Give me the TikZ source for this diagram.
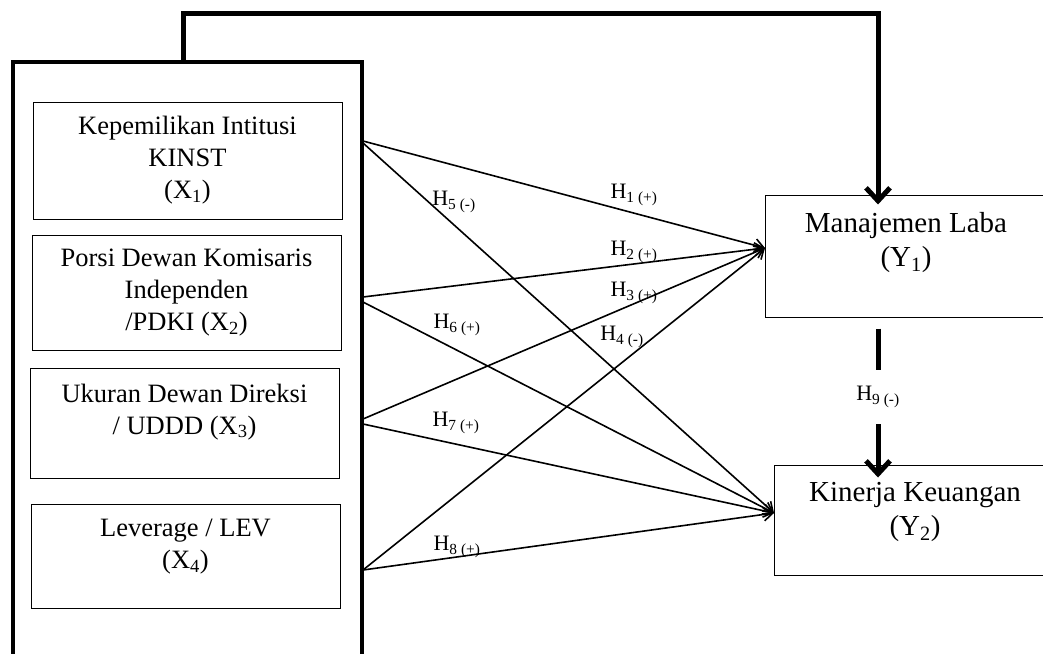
\documentclass[tikz,border=0pt]{standalone}
\usepackage{fontspec}
\setmainfont{Liberation Serif}
\usetikzlibrary{arrows.meta,positioning,calc}

\newcommand{\lowpad}[1]{\rule[-#1]{0pt}{0pt}}

\begin{document}
\begin{tikzpicture}[
    x=1pt, y=-1pt,
    varbox/.style={rectangle, draw=black, line width=1pt, minimum width=309pt, align=center, inner sep=2pt, font=\fontsize{26.5}{32}\selectfont},
    outbox/.style={varbox, minimum width=281pt, font=\fontsize{29}{34}\selectfont},
    panel/.style={rectangle, draw=black, line width=4.5pt, outer sep=0pt},
    arrow/.style={-{Straight Barb[length=9pt,width=13pt]}, line width=1.6pt},
    bigarrow/.style={-{Straight Barb[length=13pt,width=24pt]}, line width=5pt},
    hyp/.style={font=\fontsize{22}{24}\selectfont, inner sep=1pt}
]
\useasboundingbox (0,0) rectangle (1043,653);
\clip (0,0) rectangle (1043,653);

% independent variables
\node[panel, minimum width=349pt, minimum height=660pt] (panel) at (187.5,392) {};
\node[varbox, minimum height=117pt] (x1) at (187.5,160.5) {Kepemilikan Intitusi\\KINST\\(X\textsubscript{1})};
\node[varbox, minimum height=115pt] (x2) at (186.5,292.5) {Porsi Dewan Komisaris\\Independen\\/PDKI (X\textsubscript{2})};
\node[varbox, minimum height=110pt] (x3) at (184.5,423) {Ukuran Dewan Direksi\\/ UDDD (X\textsubscript{3})\lowpad{28pt}};
\node[varbox, minimum height=104pt] (x4) at (185.5,556) {Leverage / LEV\\(X\textsubscript{4})\lowpad{24pt}};

% dependent variables
\node[outbox, minimum height=122pt] (y1) at (906,256) {Manajemen Laba\\(Y\textsubscript{1})\lowpad{33pt}};
\node[outbox, minimum height=110pt] (y2) at (915,520) {Kinerja Keuangan\\(Y\textsubscript{2})\lowpad{22pt}};

\coordinate (k1) at (363,141);
\coordinate (k1b) at (363,143);
\coordinate (k2) at (363,297);
\coordinate (k2b) at (363,302);
\coordinate (k3) at (363,419);
\coordinate (k3b) at (363,424);
\coordinate (k4) at (363,570);
\coordinate (y1in) at ($(y1.west)+(0,-8)$);
\coordinate (y2in) at ($(y2.west)+(0,-7)$);

\draw[arrow] (k1) -- (y1in);
\draw[arrow] (k2) -- (y1in);
\draw[arrow] (k3) -- (y1in);
\draw[arrow] (k4) -- (y1in);
\draw[arrow] (k1b) -- (y2in);
\draw[arrow] (k2b) -- (y2in);
\draw[arrow] (k3b) -- (y2in);
\draw[arrow] (k4) -- (y2in);

\node[hyp] (h1) at (634,195) {H\textsubscript{1 (+)}};
\node[hyp] (h2) at (634,252) {H\textsubscript{2 (+)}};
\node[hyp] (h3) at (634,293) {H\textsubscript{3 (+)}};
\node[hyp] (h4) at (622,337) {H\textsubscript{4 (-)}};
\node[hyp] (h5) at (454,202) {H\textsubscript{5 (-)}};
\node[hyp] (h6) at (457,325) {H\textsubscript{6 (+)}};
\node[hyp] (h7) at (456,423) {H\textsubscript{7 (+)}};
\node[hyp] (h8) at (457,547) {H\textsubscript{8 (+)}};

% panel to Y1 and Y1 to Y2
\coordinate (lead) at (183,62);
\coordinate (toprun) at (878,13);
\coordinate (y1top) at (y1.north -| toprun);
\coordinate (y1bot) at (y1.south -| toprun);
\coordinate (y2top) at (y2.north -| toprun);
\draw[bigarrow, shorten >=-10pt] (lead) |- (toprun) -- (y1top);
\draw[bigarrow, shorten <=11pt, shorten >=-13pt] (y1bot) -- node[hyp, pos=0.54, fill=white, minimum height=54pt] (h9) {H\textsubscript{9 (-)}} (y2top);

\end{tikzpicture}
\end{document}
